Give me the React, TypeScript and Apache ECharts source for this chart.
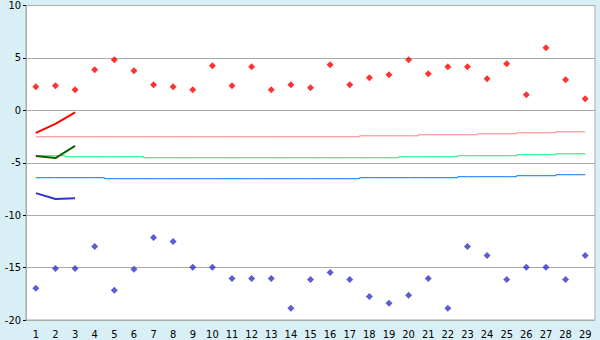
import React, { useEffect, useRef } from "react";
import * as echarts from "echarts";

const categories = Array.from({ length: 29 }, (_, i) => String(i + 1));

const redPoints = [2.25, 2.35, 1.97, 3.87, 4.83, 3.78, 2.44, 2.25, 1.97, 4.25, 2.35, 4.16, 1.97, 2.44, 2.16, 4.35, 2.44, 3.11, 3.4, 4.83, 3.49, 4.16, 4.16, 3.02, 4.44, 1.49, 5.97, 2.92, 1.11];
const bluePoints = [-16.98, -15.08, -15.08, -12.98, -17.17, -15.17, -12.13, -12.51, -14.98, -14.98, -16.03, -16.03, -16.03, -18.89, -16.13, -15.46, -16.13, -17.75, -18.41, -17.65, -16.03, -18.89, -12.98, -13.84, -16.13, -14.98, -14.98, -16.13, -13.84];

const redThick = [-2.15, -1.3, -0.2];
const greenThick = [-4.35, -4.55, -3.4];
const blueThick = [-7.9, -8.45, -8.38];

const pinkThin = [-2.524, -2.524, -2.524, -2.524, -2.524, -2.524, -2.524, -2.524, -2.524, -2.524, -2.524, -2.524, -2.524, -2.524, -2.524, -2.524, -2.524, -2.429, -2.429, -2.429, -2.333, -2.333, -2.333, -2.238, -2.238, -2.143, -2.143, -2.048, -2.048];
const greenThin = [-4.333, -4.333, -4.429, -4.429, -4.429, -4.429, -4.524, -4.524, -4.524, -4.524, -4.524, -4.524, -4.524, -4.524, -4.524, -4.524, -4.524, -4.524, -4.524, -4.429, -4.429, -4.429, -4.333, -4.333, -4.333, -4.238, -4.238, -4.143, -4.143];
const blueThin = [-6.429, -6.429, -6.429, -6.429, -6.524, -6.524, -6.524, -6.524, -6.524, -6.524, -6.524, -6.524, -6.524, -6.524, -6.524, -6.524, -6.524, -6.429, -6.429, -6.429, -6.429, -6.429, -6.333, -6.333, -6.333, -6.238, -6.238, -6.143, -6.143];

const yMin = -20;
const yMax = 10;
const yInterval = 5;

export default function App() {
  const ref = useRef<HTMLDivElement>(null);
  useEffect(() => {
    if (!ref.current) return;
    const chart = echarts.init(ref.current, null, { renderer: "svg" });
    const font = {
      fontFamily: "'DejaVu Sans Condensed', 'DejaVu Sans', sans-serif",
      fontSize: 11,
      color: "#000",
    };
    const stepLine = (data: number[], color: string) => ({
      type: "line",
      data,
      step: "middle",
      showSymbol: false,
      silent: true,
      lineStyle: { color, width: 1 },
      z: 2,
    });
    const thickLine = (data: number[], color: string) => ({
      type: "line",
      data,
      showSymbol: false,
      silent: true,
      lineStyle: { color, width: 2 },
      z: 3,
    });
    const points = (data: number[], color: string) => ({
      type: "scatter",
      data,
      symbol: "diamond",
      symbolSize: 7,
      itemStyle: { color },
      z: 4,
    });
    chart.setOption({
      animation: false,
      backgroundColor: "#d9eff6",
      grid: {
        left: 26,
        right: 5,
        top: 5,
        bottom: 20,
        show: true,
        backgroundColor: "#ffffff",
        borderColor: "#aaaaaa",
        borderWidth: 1,
      },
      xAxis: {
        type: "category",
        data: categories,
        boundaryGap: true,
        axisLine: { lineStyle: { color: "#aaaaaa" } },
        axisTick: { alignWithLabel: true, length: 4, lineStyle: { color: "#000" } },
        axisLabel: { ...font, margin: 9, interval: 0 },
        splitLine: { show: false },
      },
      yAxis: {
        type: "value",
        min: yMin,
        max: yMax,
        interval: yInterval,
        axisLine: { show: true, lineStyle: { color: "#aaaaaa" } },
        axisTick: { show: true, length: 3, lineStyle: { color: "#000" } },
        axisLabel: { ...font, margin: 5 },
        splitLine: { lineStyle: { color: "#aaaaaa", width: 1 } },
      },
      series: [
        stepLine(pinkThin, "#ff8080"),
        stepLine(greenThin, "#00ee77"),
        stepLine(blueThin, "#0077ee"),
        thickLine(redThick, "#ff0000"),
        thickLine(greenThick, "#006600"),
        thickLine(blueThick, "#3333cc"),
        points(redPoints, "#ff0000"),
        points(bluePoints, "#3333cc"),
      ],
    });
    return () => chart.dispose();
  }, []);
  return (
    <div
      ref={ref}
      style={{ position: "fixed", left: 0, top: 0, width: 600, height: 340 }}
    />
  );
}
